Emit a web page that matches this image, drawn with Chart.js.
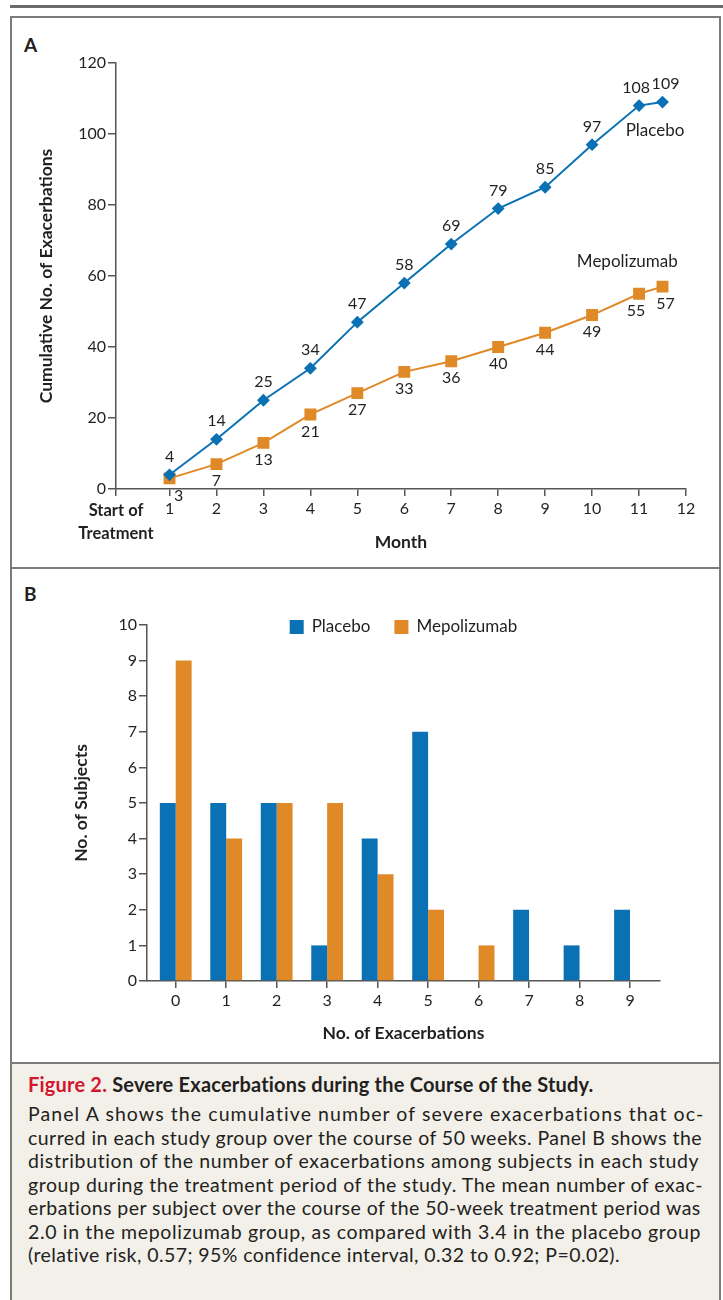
<!DOCTYPE html>
<html>
<head>
<meta charset="utf-8">
<script src="https://cdn.jsdelivr.net/npm/chart.js@4.4.1/dist/chart.umd.min.js"></script>
<style>
  body { margin: 0; background: #fff; }
  #page { position: relative; width: 723px; height: 1300px; overflow: hidden; font-family: Lato, "Noto Sans", sans-serif; color: #231f20; }
  .rule { position: absolute; left: 10px; top: 5px; width: 713px; height: 3px; background: #6b6b6b; }
  .frame { position: absolute; left: 10px; top: 16px; width: 707px; height: 1300px; border: 2px solid #7b7b7b; }
  .sep { position: absolute; left: 10px; width: 711px; height: 2px; background: #7b7b7b; }
  .panel-letter { position: absolute; left: 24px; font-weight: bold; font-size: 19px; }
  .caption { position: absolute; left: 12px; top: 1064px; width: 707px; height: 240px; background: #f3f0ea; }
  .cap-title { position: absolute; left: 16px; top: 8px; font-size: 20px; letter-spacing: 0.2px; font-weight: bold; white-space: nowrap; }
  .cap-title span { color: #d2182f; }
  .cap-body { position: absolute; left: 16px; top: 38px; font-size: 19.5px; line-height: 23.5px; white-space: nowrap; }
  .cap-line { display: inline-block; }
  canvas { position: absolute; }
</style>
</head>
<body>
<div id="page">
  <div class="rule"></div>
  <div class="frame"></div>
  <div class="sep" style="top:567px"></div>
  <div class="sep" style="top:1062px"></div>
  <div class="panel-letter" style="top:33px">A</div>
  <div class="panel-letter" style="top:582px">B</div>
  <canvas id="chartA" width="707" height="549" style="left:12px;top:18px;width:707px;height:549px"></canvas>
  <canvas id="chartB" width="707" height="493" style="left:12px;top:569px;width:707px;height:493px"></canvas>
  <div class="caption">
    <div class="cap-title"><span>Figure 2.</span> Severe Exacerbations during the Course of the Study.</div>
    <div class="cap-body"><span class="cap-line">Panel A shows the cumulative number of severe exacerbations that oc-</span><br><span class="cap-line">curred in each study group over the course of 50 weeks. Panel B shows the</span><br><span class="cap-line">distribution of the number of exacerbations among subjects in each study</span><br><span class="cap-line">group during the treatment period of the study. The mean number of exac-</span><br><span class="cap-line">erbations per subject over the course of the 50-week treatment period was</span><br><span class="cap-line">2.0 in the mepolizumab group, as compared with 3.4 in the placebo group</span><br><span class="cap-line">(relative risk, 0.57; 95% confidence interval, 0.32 to 0.92; P=0.02).</span></div>
  </div>
</div>
<script>
// Panel A: cumulative exacerbations by month
const months = [1, 2, 3, 4, 5, 6, 7, 8, 9, 10, 11, 11.5];
const placeboCum = [4, 14, 25, 34, 47, 58, 69, 79, 85, 97, 108, 109];
const mepoCum = [3, 7, 13, 21, 27, 33, 36, 40, 44, 49, 55, 57];
const monthTicks = [1, 2, 3, 4, 5, 6, 7, 8, 9, 10, 11, 12];
const startTick = -0.14;

// Panel B: distribution of exacerbations per subject
const exacCounts = [0, 1, 2, 3, 4, 5, 6, 7, 8, 9];
const placeboSubjects = [5, 5, 5, 1, 4, 7, 0, 2, 1, 2];
const mepoSubjects = [9, 4, 5, 5, 3, 2, 1, 0, 0, 0];

const BLUE = '#0a71b4';
const ORANGE = '#e08927';
const AXIS = '#555555';
const TEXT = '#231f20';
const FONT = 'Lato, "Noto Sans", sans-serif';

// stretch each caption line to the width it has in the printed figure
const capLineEnds = [705, 702, 700, 703, 701, 701, 620];
document.querySelectorAll('.cap-line').forEach((el, i) => {
  const w = el.getBoundingClientRect().width;
  const n = el.textContent.length;
  el.style.letterSpacing = ((capLineEnds[i] - 28 - w) / n) + 'px';
});

const pointLabels = {
  id: 'pointLabels',
  afterDatasetsDraw(chart) {
    const ctx = chart.ctx;
    ctx.save();
    ctx.font = '16px ' + FONT;
    ctx.fillStyle = TEXT;
    ctx.textAlign = 'center';
    ctx.textBaseline = 'middle';
    chart.data.datasets.forEach((ds, i) => {
      const meta = chart.getDatasetMeta(i);
      const last = meta.data.length - 1;
      meta.data.forEach((pt, j) => {
        const dy = i === 0 ? -18 : 17;
        let dx = 0;
        if (i === 1 && j === 0) dx = 9;
        if (j === last - 1) dx = -3;
        if (j === last) dx = 3;
        ctx.fillText(String(ds.data[j].y), pt.x + dx, pt.y + dy);
      });
    });
    // series names
    const xs = chart.scales.x, ys = chart.scales.y;
    ctx.font = '17px ' + FONT;
    ctx.fillText('Placebo', xs.getPixelForValue(11.34), ys.getPixelForValue(101));
    ctx.fillText('Mepolizumab', xs.getPixelForValue(10.75), ys.getPixelForValue(64));
    ctx.restore();
  }
};

const border = { color: AXIS, width: 1.5 };
const xGrid = { drawOnChartArea: false, drawTicks: true, tickLength: 7, color: AXIS, lineWidth: 1.5, offset: false };
const yGrid = { drawOnChartArea: false, drawTicks: true, tickLength: 8, color: AXIS, lineWidth: 1.5 };
const titleFont = { family: FONT, size: 17.5, weight: 'bold' };
const tickFont = { family: FONT, size: 16 };

new Chart(document.getElementById('chartA'), {
  type: 'line',
  data: {
    datasets: [
      {
        label: 'Placebo',
        data: months.map((m, i) => ({ x: m, y: placeboCum[i] })),
        borderColor: BLUE, backgroundColor: BLUE, borderWidth: 2,
        pointStyle: 'rectRot', pointRadius: 5, tension: 0
      },
      {
        label: 'Mepolizumab',
        data: months.map((m, i) => ({ x: m, y: mepoCum[i] })),
        borderColor: ORANGE, backgroundColor: ORANGE, borderWidth: 2,
        pointStyle: 'rect', pointRadius: 7, tension: 0
      }
    ]
  },
  options: {
    responsive: false, animation: false, devicePixelRatio: 1,
    layout: { padding: { left: 20, top: 45, right: 33, bottom: 10 } },
    plugins: { legend: { display: false }, tooltip: { enabled: false } },
    scales: {
      x: {
        type: 'linear', min: startTick, max: 12,
        border, grid: xGrid,
        afterBuildTicks: (s) => { s.ticks = [startTick, ...monthTicks].map(v => ({ value: v })); },
        afterFit: (s) => { s.height = 68; },
        ticks: {
          autoSkip: false, maxRotation: 0, color: TEXT, padding: 3,
          font: (c) => (c.tick && c.tick.value === startTick) ? { family: FONT, size: 16.5, weight: 'bold', lineHeight: 1.4 } : tickFont,
          callback: (v) => v === startTick ? ['Start of', 'Treatment'] : String(v)
        },
        title: { display: true, text: 'Month', color: TEXT, font: titleFont }
      },
      y: {
        min: 0, max: 120,
        border, grid: yGrid,
        afterFit: (s) => { s.width = 84; },
        ticks: { stepSize: 20, color: TEXT, padding: 2, font: tickFont },
        title: { display: true, text: 'Cumulative No. of Exacerbations', color: TEXT, font: titleFont }
      }
    }
  },
  plugins: [pointLabels]
});

const topLegend = {
  id: 'topLegend',
  afterDraw(chart) {
    const ctx = chart.ctx;
    const area = chart.chartArea;
    ctx.save();
    ctx.font = '17px ' + FONT;
    const items = chart.data.datasets.map(d => ({ text: d.label, color: d.backgroundColor, w: ctx.measureText(d.label).width }));
    const box = 14, gap = 8, between = 24;
    const total = items.reduce((a, it) => a + box + gap + it.w, 0) + between * (items.length - 1);
    let x = (area.left + area.right) / 2 - total / 2;
    const y = area.top + 2;
    ctx.textBaseline = 'middle';
    ctx.textAlign = 'left';
    items.forEach(it => {
      ctx.fillStyle = it.color;
      ctx.fillRect(x, y - box / 2, box, box);
      x += box + gap;
      ctx.fillStyle = TEXT;
      ctx.fillText(it.text, x, y);
      x += it.w + between;
    });
    ctx.restore();
  }
};

new Chart(document.getElementById('chartB'), {
  type: 'bar',
  data: {
    datasets: [
      { label: 'Placebo', data: exacCounts.map((c, i) => ({ x: c, y: placeboSubjects[i] })), backgroundColor: BLUE },
      { label: 'Mepolizumab', data: exacCounts.map((c, i) => ({ x: c, y: mepoSubjects[i] })), backgroundColor: ORANGE }
    ]
  },
  options: {
    responsive: false, animation: false, devicePixelRatio: 1,
    layout: { padding: { left: 55, top: 56, right: 59, bottom: 14 } },
    datasets: { bar: { barPercentage: 1, categoryPercentage: 0.63 } },
    plugins: { legend: { display: false }, tooltip: { enabled: false } },
    scales: {
      x: {
        type: 'linear', min: -0.569, max: 9.594, offset: false,
        border, grid: xGrid,
        afterBuildTicks: (s) => { s.ticks = exacCounts.map(v => ({ value: v })); },
        afterFit: (s) => { s.height = 67; },
        ticks: { color: TEXT, padding: 3, font: tickFont },
        title: { display: true, text: 'No. of Exacerbations', color: TEXT, font: titleFont }
      },
      y: {
        min: 0, max: 10,
        border, grid: yGrid,
        afterFit: (s) => { s.width = 80; },
        ticks: { stepSize: 1, color: TEXT, padding: 2, font: tickFont },
        title: { display: true, text: 'No. of Subjects', color: TEXT, font: titleFont }
      }
    }
  },
  plugins: [topLegend]
});
</script>
</body>
</html>
